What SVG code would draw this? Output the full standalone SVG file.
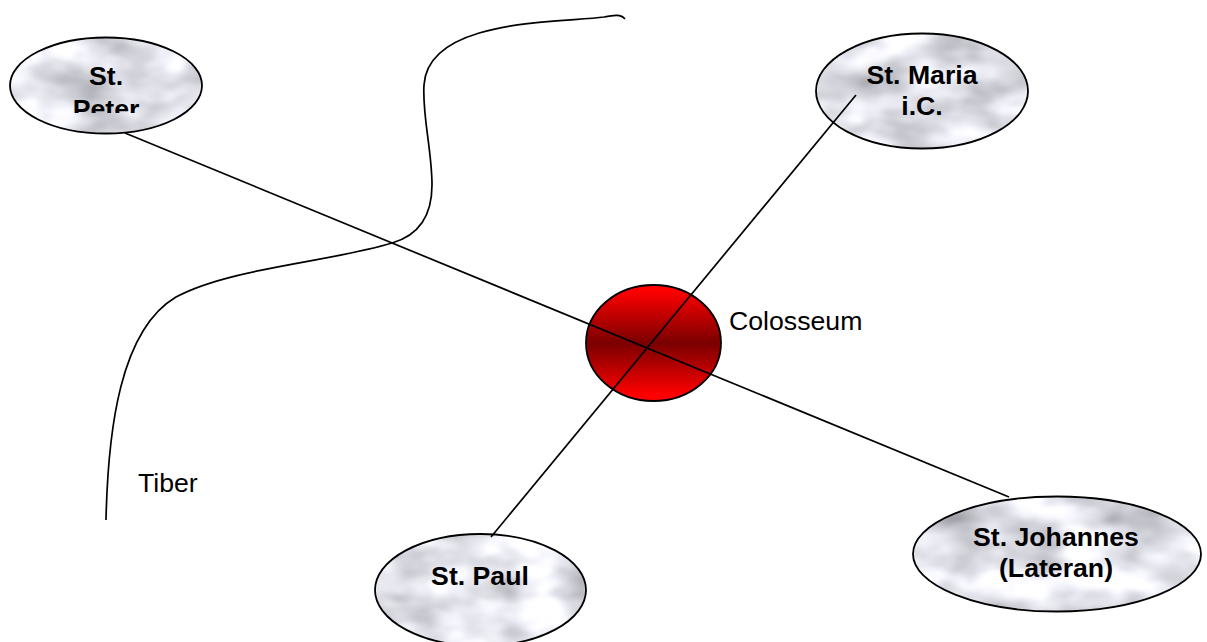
<svg xmlns="http://www.w3.org/2000/svg" width="1207" height="642" viewBox="0 0 1207 642">
<style>
.edge{fill:none;stroke:#000;stroke-width:1.7}
.oval{stroke:#000;stroke-width:1.8;fill:none}
.marble{fill:#000;filter:url(#marble)}
.b{font:bold 26.67px "Liberation Sans",Arial,sans-serif;text-anchor:middle;fill:#000}
.r{font:26.67px "Liberation Sans",Arial,sans-serif;fill:#000}
</style>
<defs>
<linearGradient id="red" x1="0" y1="0" x2="0" y2="1">
<stop offset="0.05" stop-color="#ff0000"/><stop offset="0.5" stop-color="#7a0000"/><stop offset="0.95" stop-color="#ff0000"/>
</linearGradient>
<filter id="marble" x="0" y="0" width="1" height="1" color-interpolation-filters="sRGB">
<feTurbulence type="fractalNoise" baseFrequency="0.016 0.03" numOctaves="3" seed="7"/>
<feColorMatrix type="matrix" values="0.55 0.3 0 0 0.46  0.55 0.3 0 0 0.46  0.55 0.3 0 0 0.49  0 0 0 0 1"/>
<feGaussianBlur stdDeviation="1.5"/>
<feComposite in2="SourceAlpha" operator="in"/>
</filter>
<clipPath id="peterClip"><rect x="0" y="50" width="220" height="63"/></clipPath>
</defs>
<g id="node-st-peter">
<ellipse class="marble" cx="106" cy="85.5" rx="96" ry="48"/>
<ellipse class="oval" cx="106" cy="85.5" rx="96" ry="48"/>
<g clip-path="url(#peterClip)"><text class="b" x="106" y="85">St.</text><text class="b" x="106" y="118">Peter</text></g>
</g>
<g id="node-st-maria">
<ellipse class="marble" cx="922" cy="91" rx="106" ry="57.5"/>
<ellipse class="oval" cx="922" cy="91" rx="106" ry="57.5"/>
<text class="b" x="922" y="84">St. Maria</text><text class="b" x="922" y="115">i.C.</text>
</g>
<g id="node-st-johannes">
<ellipse class="marble" cx="1057" cy="554" rx="144" ry="57.5"/>
<ellipse class="oval" cx="1057" cy="554" rx="144" ry="57.5"/>
<text class="b" x="1056" y="546">St. Johannes</text><text class="b" x="1056" y="577">(Lateran)</text>
</g>
<g id="node-st-paul">
<ellipse class="marble" cx="480.500" cy="590" rx="105.500" ry="56"/>
<ellipse class="oval" cx="480.500" cy="590" rx="105.500" ry="56"/>
<text class="b" x="480" y="585">St. Paul</text>
</g>
<g id="node-colosseum">
<ellipse cx="653.500" cy="343" rx="67.500" ry="58" fill="url(#red)" stroke="#000" stroke-width="1.8"/>
<text class="r" x="729" y="330">Colosseum</text>
</g>
<g id="label-tiber"><text class="r" x="138" y="492">Tiber</text></g>
<g id="connectors">
<path class="edge" d="M125 133L1009 497"/>
<path class="edge" d="M856 95L491 537"/>
<path class="edge" d="M625 19C621 14 614 15 604 17C560 23 428 18 424 85C422 115 432 150 432 185C432 215 420 235 392 243C330 262 230 268 176 297C120 330 108 430 106 520"/>
</g>
</svg>
